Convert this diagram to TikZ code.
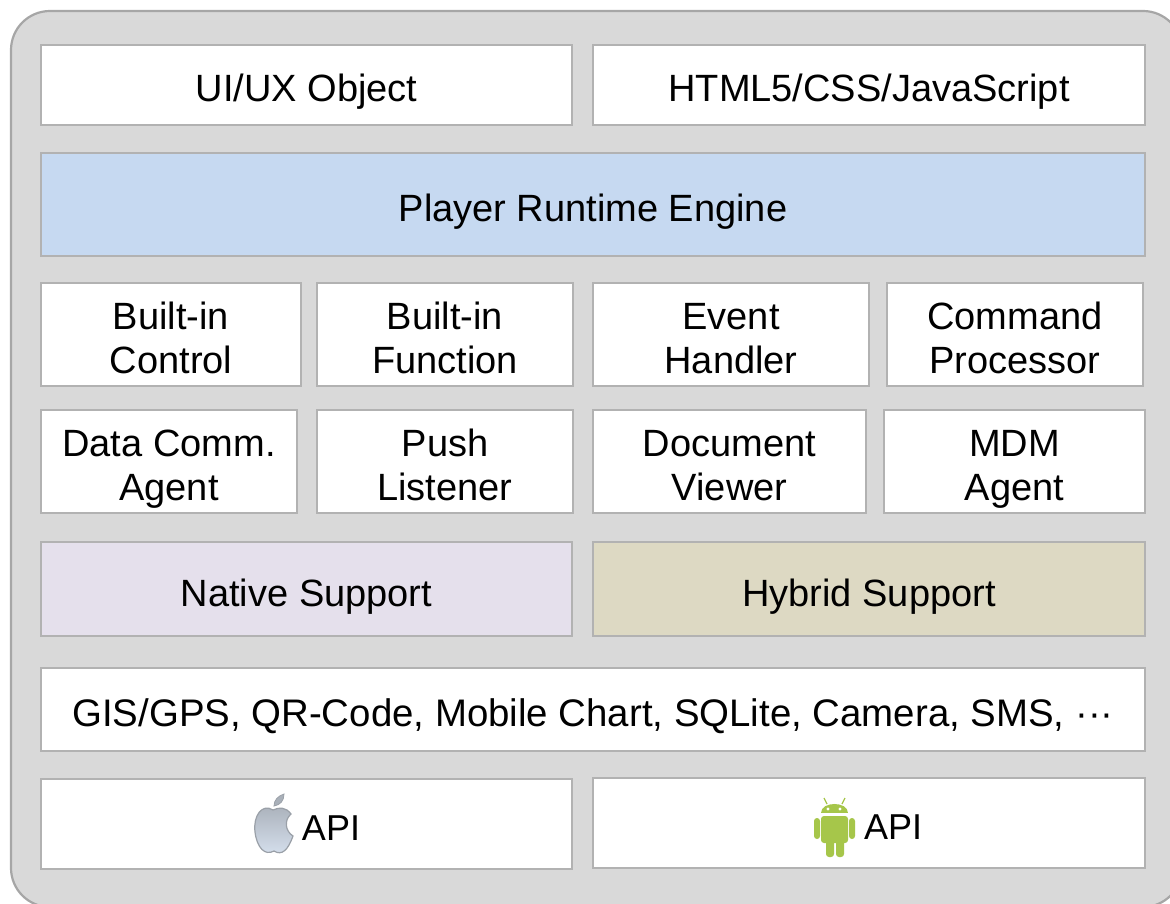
\documentclass[tikz,border=0pt]{standalone}
\usepackage{fontspec}
\setmainfont{Liberation Sans}
\definecolor{framegray}{HTML}{D9D9D9}
\definecolor{edgegray}{HTML}{A6A6A6}
\definecolor{boxedge}{HTML}{B2B2B2}
\definecolor{engineblue}{HTML}{C6D9F1}
\definecolor{nativelilac}{HTML}{E5E0EC}
\definecolor{hybridtan}{HTML}{DDD9C3}
\definecolor{droidgreen}{HTML}{A6C64A}
\definecolor{appletop}{HTML}{A9B0B9}
\definecolor{applelow}{HTML}{D6E0EE}
\definecolor{appleedge}{HTML}{9AA0A8}
\tikzset{
  layer/.style={rectangle, draw=boxedge, line width=0.55pt, inner sep=0pt, align=center,
    text depth=0pt, text height=17pt, font=\fontsize{19}{22}\selectfont},
  rowone/.style={layer, fill=white, minimum height=40pt},
  rowtwo/.style={layer, minimum height=51.5pt},
  rowthree/.style={layer, fill=white, minimum height=51.5pt, text height=38.5pt},
  rowfive/.style={layer, minimum height=47pt},
  rowseven/.style={layer, fill=white, minimum height=45pt},
  apitext/.style={inner sep=0pt, font=\fontsize{18}{22}\selectfont}
}
\begin{document}
\begin{tikzpicture}[x=0.5pt, y=-0.5pt]
  \useasboundingbox (0,0) rectangle (1170,903);
  \clip (0,0) rectangle (1170,903);
  % Frame
  \draw[draw=edgegray, line width=1.1pt, fill=framegray, rounded corners=19.5pt] (11,11) rectangle (1182,907);

  % Top rows
  \node[rowone, minimum width=265.5pt] (uiux) at (306.5,85) {UI/UX Object};
  \node[rowone, minimum width=276pt] (html) at (869,85) {HTML5/CSS/JavaScript};
  \node[rowtwo, fill=engineblue, minimum width=552pt] (engine) at (593,204.5) {Player Runtime Engine};

  % Modules
  \node[rowthree, minimum width=130pt] (control) at (171,334.5) {Built-in\\Control};
  \node[rowthree, minimum width=128pt] (function) at (445,334.5) {Built-in\\Function};
  \node[rowthree, minimum width=138pt] (event) at (731,334.5) {Event\\Handler};
  \node[rowthree, minimum width=128pt] (command) at (1015,334.5) {Command\\Processor};
  \node[rowthree, minimum width=128pt] (agent) at (169,461.5) {Data Comm.\\Agent};
  \node[rowthree, minimum width=128pt] (push) at (445,461.5) {Push\\Listener};
  \node[rowthree, minimum width=136.5pt] (viewer) at (729.5,461.5) {Document\\Viewer};
  \node[rowthree, minimum width=130.5pt] (mdm) at (1014.5,461.5) {MDM\\Agent};

  % Support
  \node[rowfive, fill=nativelilac, minimum width=265.5pt] (native) at (306.5,589) {Native Support};
  \node[rowfive, fill=hybridtan, minimum width=276pt] (hybrid) at (869,589) {Hybrid Support};
  \node[layer, fill=white, minimum width=552pt, minimum height=41.5pt,
    font=\fontsize{19.2}{22}\selectfont] (plugins) at (593,709.5)
    {GIS/GPS, QR-Code, Mobile Chart, SQLite, Camera, SMS, \textperiodcentered\textperiodcentered\textperiodcentered};

  % APIs
  \node[rowseven, minimum width=265.5pt] (iosbox) at (306.5,824) {};
  \node[rowseven, minimum width=276pt] (droidbox) at (869,823) {};
  \node[apitext] (iosapi) at (331,828) {API};
  \node[apitext] (droidapi) at (893,827) {API};

  % Apple mark
  \path[draw=appleedge, line width=0.6pt, top color=appletop, bottom color=applelow]
    (273,810) .. controls (262,803) and (253,816) .. (255,832)
    .. controls (257,848) and (265,856) .. (274,851)
    .. controls (282,856) and (288,850) .. (293,836)
    .. controls (285,831) and (284,820) .. (291,814)
    .. controls (286,807) and (279,807) .. (273,810) -- cycle;
  \path[draw=appleedge, line width=0.4pt, fill=appletop] (274,806) .. controls (274,800) and (278,796) .. (284,794)
    .. controls (284,801) and (280,805) .. (274,806) -- cycle;

  % Android mark
  \fill[droidgreen] (821,813) .. controls (821,801) and (848,801) .. (848,813) -- cycle;
  \draw[droidgreen, line width=0.6pt] (827,804) -- (824,798) (842,804) -- (845,798);
  \fill[white] (828,809) circle (1.6) (840,809) circle (1.6);
  \fill[droidgreen, rounded corners=1.5pt] (821,816) rectangle (848,843);
  \fill[droidgreen, rounded corners=1.5pt] (826,840) rectangle (834,857);
  \fill[droidgreen, rounded corners=1.5pt] (836,840) rectangle (844,857);
  \fill[droidgreen, rounded corners=1.5pt] (814,818) rectangle (820,839);
  \fill[droidgreen, rounded corners=1.5pt] (849,818) rectangle (855,839);
\end{tikzpicture}
\end{document}
